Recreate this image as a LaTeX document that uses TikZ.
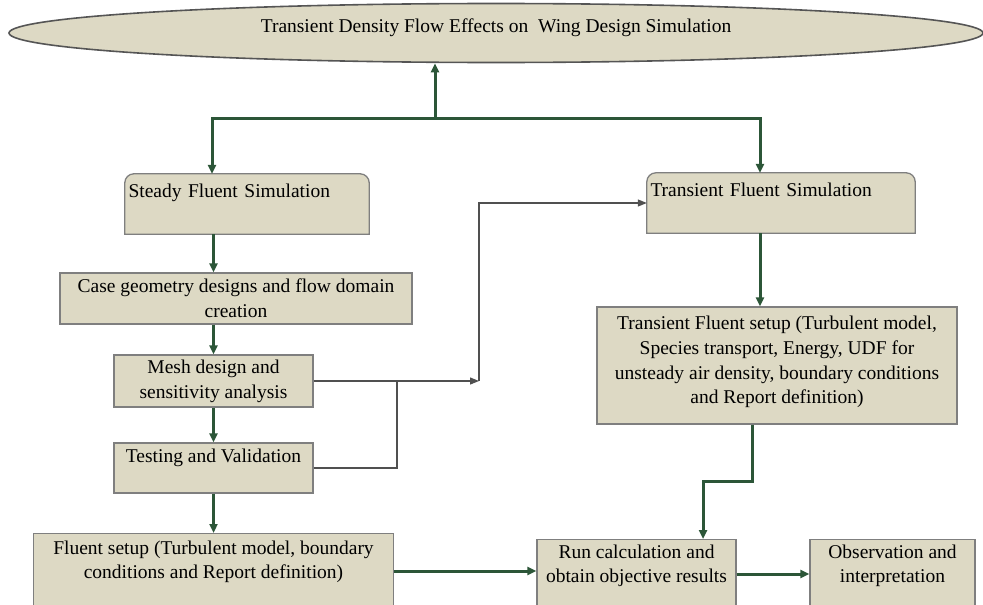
\documentclass[tikz,border=0pt]{standalone}
\usepackage{fontspec}
\setmainfont{Liberation Serif}
\usepackage{tikz}
\usetikzlibrary{arrows.meta,positioning,shapes.geometric,backgrounds}
\definecolor{boxFill}{HTML}{DDD9C4}
\definecolor{boxDraw}{HTML}{7F7F7F}
\definecolor{ovalDraw}{HTML}{555555}
\definecolor{flowDraw}{HTML}{2C5638}
\definecolor{linkDraw}{HTML}{505050}
\tikzset{
  font=\fontsize{19.5}{24.8}\selectfont,
  box/.style    ={draw=boxDraw, fill=boxFill, align=center, line width=1.3pt, inner xsep=4pt},
  topbox/.style ={box, text height=14pt},
  simbox/.style ={align=left, inner xsep=3.5pt, inner ysep=9pt, text height=14pt, text depth=28pt},
  boxline/.style={draw=boxDraw, fill=boxFill, line width=1.3pt},
  oval/.style   ={ellipse, draw=ovalDraw, fill=boxFill, line width=1.6pt, inner sep=0pt},
  arr/.style    ={-{Triangle[length=9pt,width=8pt]}, draw=flowDraw, line width=3pt},
  link/.style   ={-{Triangle[length=9pt,width=7pt]}, draw=linkDraw, line width=1.2pt},
  wire/.style   ={draw=linkDraw, line width=1.2pt},
}
% outline with rounded top corners only
\newcommand{\topround}[1]{%
  \begin{scope}[on background layer]
    \draw[boxline] (#1.north) [rounded corners=9pt] -- (#1.north east) -- (#1.east)
      [sharp corners] -- (#1.south east) -- (#1.south west) -- (#1.west)
      [rounded corners=9pt] -- (#1.north west) -- cycle;
  \end{scope}}
\begin{document}
\begin{tikzpicture}[x=1pt, y=-1pt]
  \useasboundingbox (0,0) rectangle (983,605);
  \clip (0,0) rectangle (983,605);

  \node[oval, minimum width=974pt, minimum height=59pt, text height=14pt, text depth=16pt] (title) at (496,33)
        {Transient Density Flow Effects on\ \ Wing Design Simulation};

  % steady branch
  \node[simbox, text width=237pt] (steady) at (247,204) {Steady Fluent Simulation};
  \topround{steady}
  \node[box, minimum width=352pt, minimum height=51pt] (case) at (236,298.5)
        {Case geometry designs and flow domain\\creation};
  \node[box, minimum width=199pt, minimum height=52pt] (mesh) at (213.5,381)
        {Mesh design and\\sensitivity analysis};
  \node[topbox, minimum width=199pt, inner ysep=5pt, text depth=26pt] (test) at (213.5,468)
        {Testing and Validation};
  \node[box, minimum width=360pt, inner ysep=7pt, text depth=70pt, anchor=north] (fluent) at (213.5,533)
        {Fluent setup (Turbulent model, boundary\\conditions and Report definition)};

  % transient branch
  \node[simbox, text width=261pt] (transim) at (781,203) {Transient Fluent Simulation};
  \topround{transim}
  \node[box, minimum width=360pt, minimum height=117pt, text depth=11pt] (setup) at (777,365.5)
        {Transient Fluent setup (Turbulent model,\\Species transport, Energy, UDF for\\unsteady air density, boundary conditions\\and Report definition)};
  \node[box, minimum width=199pt, inner ysep=5pt, text depth=70pt, anchor=north] (run) at (636.5,539)
        {Run calculation and\\obtain objective results};
  \node[box, minimum width=165pt, inner ysep=5pt, text depth=70pt, anchor=north] (obs) at (892.5,539)
        {Observation and\\interpretation};

  % green flow
  \coordinate (hub) at (435,118);
  \coordinate (lb) at (212,118);
  \coordinate (rb) at (760,118);
  \draw[arr] (hub) -- (hub |- title.south);
  \draw[arr] (hub) -| (lb |- steady.north);
  \draw[arr] (hub) -| (rb |- transim.north);
  \draw[arr] (steady.south -| mesh) -- (case.north -| mesh);
  \draw[arr] (case.south -| mesh) -- (mesh.north);
  \draw[arr] (mesh.south) -- (test.north);
  \draw[arr] (test.south) -- (fluent.north);
  \draw[arr] (transim.south -| rb) -- (setup.north -| rb);
  \coordinate (k1) at (752,481);
  \coordinate (k2) at (703,481);
  \draw[arr] (setup.south -| k1) -- (k1) -- (k2) -- (k2 |- run.north);
  \coordinate (fy) at (0,571);
  \coordinate (oy) at (0,574);
  \draw[arr] (fluent.east |- fy) -- (run.west |- fy);
  \draw[arr] (run.east |- oy) -- (obs.west |- oy);

  % thin links to the transient branch
  \coordinate (jn) at (479,381);
  \coordinate (jt) at (397,381);
  \draw[link] (mesh.east) -- (jn);
  \draw[wire] (test.east) -| (jt);
  \draw[link] (jn) |- (transim.west);
\end{tikzpicture}
\end{document}
